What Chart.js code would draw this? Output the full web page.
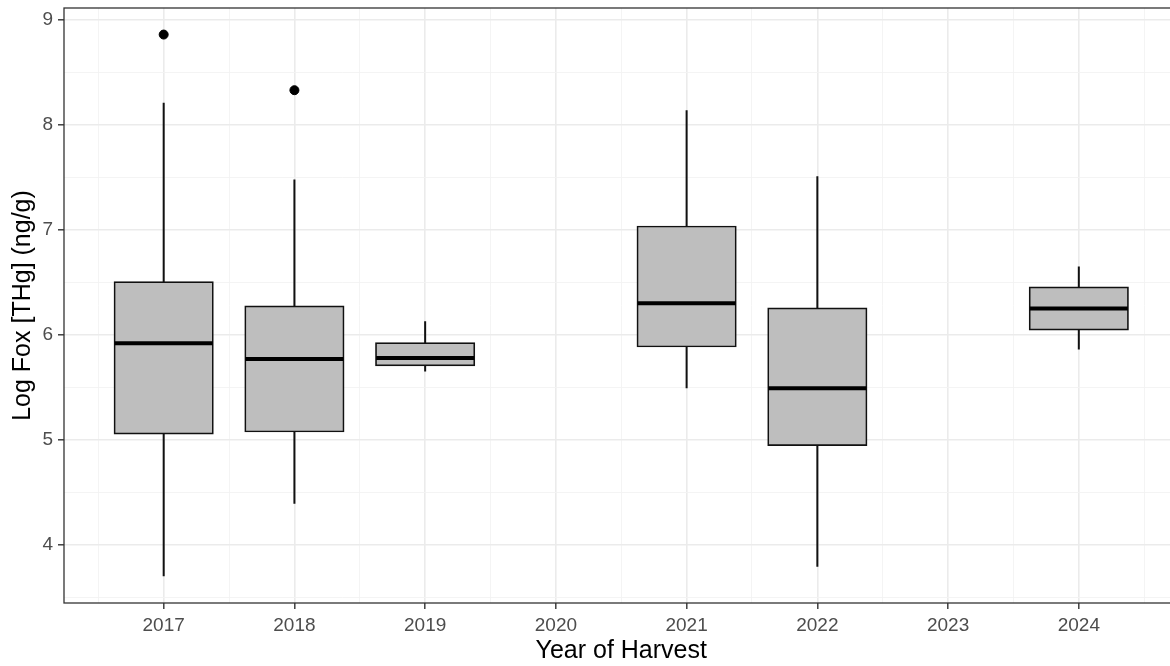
<!DOCTYPE html>
<html>
<head>
<meta charset="utf-8">
<script src="https://cdn.jsdelivr.net/npm/chart.js@4/dist/chart.umd.min.js"></script>
<style>
  html, body { margin: 0; padding: 0; background: #fff; width: 1170px; height: 666px; overflow: hidden; }
  #wrap { width: 1184px; height: 666px; }
</style>
</head>
<body>
<div id="wrap"><canvas id="box" width="1184" height="666"></canvas></div>
<script>
'use strict';

// box statistics per harvest year
var years       = [2017, 2018, 2019, 2021, 2022, 2024];
var whiskerLow  = [3.70, 4.39, 5.65, 5.49, 3.79, 5.86];
var q1          = [5.06, 5.08, 5.71, 5.89, 4.95, 6.05];
var medians     = [5.92, 5.77, 5.78, 6.30, 5.49, 6.25];
var q3          = [6.50, 6.27, 5.92, 7.03, 6.25, 6.45];
var whiskerHigh = [8.21, 7.48, 6.13, 8.14, 7.51, 6.65];

var outlierYears  = [2017, 2018];
var outlierValues = [8.86, 8.33];

var xTicks = [2017, 2018, 2019, 2020, 2021, 2022, 2023, 2024];
var yTicks = [4, 5, 6, 7, 8, 9];

var boxWidth = 0.75;   // in years, like geom_boxplot
var tickStep = 0.5;    // major + minor grid spacing

// majors plus the half steps between them, kept inside the axis range
function withMinor(majors, lo, hi) {
  var out = [];
  for (var i = 0; i < majors.length; i++) {
    out.push(majors[i] - tickStep);
    out.push(majors[i]);
  }
  out.push(majors[majors.length - 1] + tickStep);
  return out.filter(function(v) { return v >= lo && v <= hi; });
}

var boxes = [];
var outliers = [];
for (var i = 0; i < years.length; i++) {
  boxes.push({ x: years[i], y: [q1[i], q3[i]] });
}
for (var j = 0; j < outlierYears.length; j++) {
  outliers.push({ x: outlierYears[j], y: outlierValues[j] });
}

function isMajor(v) { return Math.abs(v - Math.round(v)) < 1e-6; }

var boxPlugin = {
  id: 'boxExtras',
  beforeDatasetsDraw: function(chart) {
    var ctx = chart.ctx, xs = chart.scales.x, ys = chart.scales.y;
    ctx.save();
    ctx.strokeStyle = '#111';
    ctx.lineWidth = 2;
    for (var i = 0; i < years.length; i++) {
      var px = xs.getPixelForValue(years[i]);
      ctx.beginPath();
      ctx.moveTo(px, ys.getPixelForValue(whiskerHigh[i]));
      ctx.lineTo(px, ys.getPixelForValue(q3[i]));
      ctx.moveTo(px, ys.getPixelForValue(q1[i]));
      ctx.lineTo(px, ys.getPixelForValue(whiskerLow[i]));
      ctx.stroke();
    }
    ctx.restore();
  },
  afterDatasetsDraw: function(chart) {
    var ctx = chart.ctx, ys = chart.scales.y;
    var meta = chart.getDatasetMeta(0);
    ctx.save();
    ctx.strokeStyle = '#000';
    ctx.lineWidth = 4;
    for (var i = 0; i < meta.data.length; i++) {
      var bar = meta.data[i];
      var py = ys.getPixelForValue(medians[i]);
      ctx.beginPath();
      ctx.moveTo(bar.x - bar.width / 2, py);
      ctx.lineTo(bar.x + bar.width / 2, py);
      ctx.stroke();
    }
    ctx.restore();
  },
  afterDraw: function(chart) {
    var a = chart.chartArea, ctx = chart.ctx;
    ctx.save();
    ctx.strokeStyle = '#333';
    ctx.lineWidth = 1.3;
    ctx.strokeRect(a.left, a.top, a.right - a.left + 10, a.bottom - a.top);
    ctx.restore();
  }
};

function gridOpts() {
  return {
    offset: false,
    color: function(c) { return c.tick && isMajor(c.tick.value) ? '#EBEBEB' : '#F3F3F3'; },
    lineWidth: function(c) { return c.tick && isMajor(c.tick.value) ? 1.6 : 0.9; },
    tickColor: function(c) { return c.tick && isMajor(c.tick.value) ? '#333' : 'rgba(0,0,0,0)'; },
    tickWidth: 1.4,
    tickLength: 6,
    drawTicks: true
  };
}

new Chart(document.getElementById('box'), {
  type: 'bar',
  data: {
    datasets: [
      {
        type: 'bar',
        data: boxes,
        backgroundColor: '#BEBEBE',
        borderColor: '#111',
        borderWidth: 1.7,
        borderSkipped: false,
        inflateAmount: 1,
        categoryPercentage: 1,
        barPercentage: boxWidth / tickStep
      },
      {
        type: 'scatter',
        data: outliers,
        backgroundColor: '#000',
        borderColor: '#000',
        pointRadius: 4.5,
        pointHoverRadius: 4.5
      }
    ]
  },
  plugins: [boxPlugin],
  options: {
    responsive: false,
    animation: false,
    devicePixelRatio: 1,
    layout: { padding: { top: 8, left: 0, right: 1, bottom: 0 } },
    plugins: { legend: { display: false }, tooltip: { enabled: false } },
    scales: {
      x: {
        type: 'linear',
        offset: false,
        min: 2016.2375,
        max: 2024.7625,
        afterBuildTicks: function(s) {
          s.ticks = withMinor(xTicks, s.min, s.max).map(function(v) { return { value: v }; });
        },
        afterFit: function(s) {
          s.height = 63;
          s.paddingLeft = 0;
          s.paddingRight = 0;
        },
        grid: gridOpts(),
        border: { display: false },
        ticks: {
          autoSkip: false,
          maxRotation: 0,
          padding: 7,
          color: '#4D4D4D',
          font: { family: '"Liberation Sans", Arial, sans-serif', size: 19, lineHeight: 1 },
          callback: function(v) { return isMajor(v) ? String(Math.round(v)) : ''; }
        },
        title: {
          display: true,
          text: 'Year of Harvest',
          color: '#000',
          padding: 0,
          font: { family: '"Liberation Sans", Arial, sans-serif', size: 25 }
        }
      },
      y: {
        min: 3.445,
        max: 9.113,
        afterBuildTicks: function(s) {
          s.ticks = withMinor(yTicks, s.min, s.max).map(function(v) { return { value: v }; });
        },
        afterFit: function(s) {
          s.width = 64;
          s.paddingTop = 0;
          s.paddingBottom = 0;
        },
        grid: gridOpts(),
        border: { display: false },
        ticks: {
          autoSkip: false,
          padding: 5,
          color: '#4D4D4D',
          font: { family: '"Liberation Sans", Arial, sans-serif', size: 19, lineHeight: 1 },
          callback: function(v) { return isMajor(v) ? String(Math.round(v)) : ''; }
        },
        title: {
          display: true,
          text: 'Log Fox [THg] (ng/g)',
          color: '#000',
          padding: { top: 8, bottom: 0 },
          font: { family: '"Liberation Sans", Arial, sans-serif', size: 25 }
        }
      }
    }
  }
});
</script>
</body>
</html>
